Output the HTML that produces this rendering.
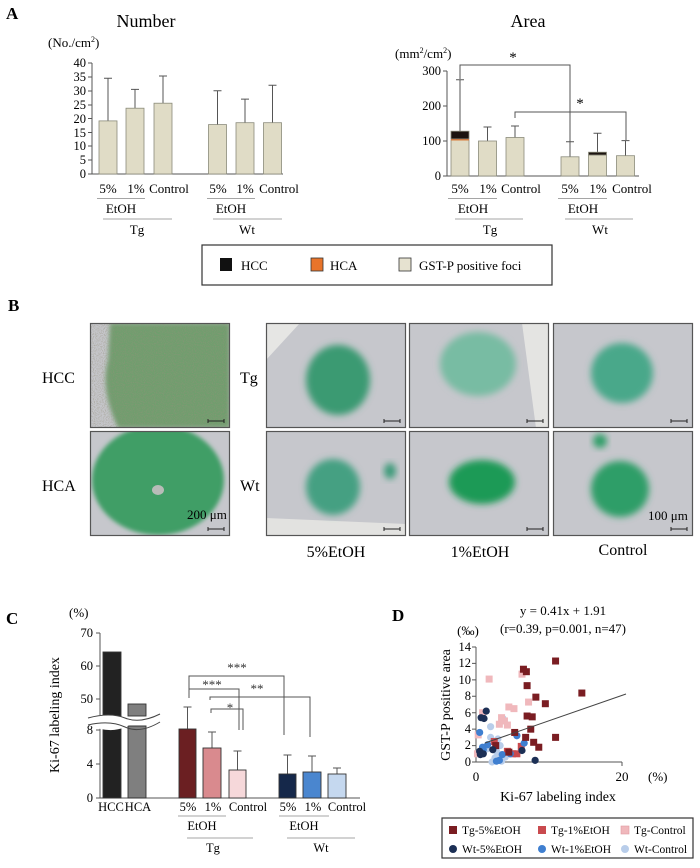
<!DOCTYPE html>
<html><head><meta charset="utf-8"><style>
html,body{margin:0;padding:0;background:#fff}
svg{display:block;font-family:"Liberation Serif",serif}
</style></head><body>
<svg id="s" width="700" height="868" viewBox="0 0 700 868" xmlns="http://www.w3.org/2000/svg">
<defs>
<filter id="bl" x="-30%" y="-30%" width="160%" height="160%"><feGaussianBlur stdDeviation="3.5"/></filter>
<filter id="bl2" x="-30%" y="-30%" width="160%" height="160%"><feGaussianBlur stdDeviation="2"/></filter>
<filter id="noise"><feTurbulence type="fractalNoise" baseFrequency="0.9" numOctaves="2" seed="3"/><feColorMatrix values="0 0 0 0 0.3  0 0 0 0 0.28  0 0 0 0 0.2  0 0 0 -2.2 1.3"/></filter>
<clipPath id="c1"><rect x="90" y="323" width="140" height="105"/></clipPath>
<clipPath id="c2"><rect x="90" y="431" width="140" height="105"/></clipPath>
</defs>
<g fill="#000">
<text x="6" y="19" font-size="17" font-weight="bold">A</text>
<text x="146" y="27" font-size="18" text-anchor="middle">Number</text>
<text x="48" y="47" font-size="13">(No./cm<tspan font-size="8" dy="-5">2</tspan><tspan dy="5">)</tspan></text>
<g font-size="12.5" text-anchor="end">
<text x="86" y="67">40</text><text x="86" y="81">35</text><text x="86" y="95">30</text><text x="86" y="109">25</text><text x="86" y="123">20</text><text x="86" y="137">15</text><text x="86" y="150">10</text><text x="86" y="164">5</text><text x="86" y="178">0</text>
</g>
<g stroke="#555" stroke-width="1" fill="none">
<path d="M92 63V174H283"/>
<path d="M88 63h4M88 77h4M88 91h4M88 105h4M88 118.5h4M88 132.5h4M88 146h4M88 160h4M88 174h4"/>
<path d="M108 121V78.3M104 78.3h8M135 108V89.4M131 89.4h8M163 103V76M159 76h8M217.5 124.6V90.8M213.5 90.8h8M245 122.7V99.1M241 99.1h8M272.5 122.7V85.2M268.5 85.2h8"/>
</g>
<g fill="#e0dcc6" stroke="#8a8a7a" stroke-width="0.8">
<rect x="99" y="120.9" width="18" height="53.1"/><rect x="126" y="108.2" width="18" height="65.8"/><rect x="154" y="103.2" width="18" height="70.8"/>
<rect x="208.5" y="124.6" width="18" height="49.4"/><rect x="236" y="122.7" width="18" height="51.3"/><rect x="263.5" y="122.7" width="18" height="51.3"/>
</g>
<g font-size="13" text-anchor="middle">
<text x="108" y="193">5%</text><text x="136" y="193">1%</text><text x="169" y="193">Control</text>
<text x="218" y="193">5%</text><text x="245" y="193">1%</text><text x="279" y="193">Control</text>
<text x="121" y="213">EtOH</text><text x="231" y="213">EtOH</text>
<text x="137" y="234">Tg</text><text x="247" y="234">Wt</text>
</g>
<g stroke="#888" stroke-width="0.8"><path d="M97 198.5H145M207 198.5H255M103 219H172M213 219H282"/></g>

<text x="528" y="27" font-size="18" text-anchor="middle">Area</text>
<text x="395" y="58" font-size="13">(mm<tspan font-size="8" dy="-5">2</tspan><tspan dy="5">/cm</tspan><tspan font-size="8" dy="-5">2</tspan><tspan dy="5">)</tspan></text>
<g font-size="12.5" text-anchor="end"><text x="441" y="75">300</text><text x="441" y="110">200</text><text x="441" y="145">100</text><text x="441" y="180">0</text></g>
<g stroke="#555" stroke-width="1" fill="none">
<path d="M447 71V176H639"/><path d="M443 71h4M443 106h4M443 141h4M443 176h4"/>
<path d="M460 131V79.8M456 79.8h8M487.5 141V127M483.5 127h8M515 137.5V126M511 126h8M570 156.8V141.7M566 141.7h8M597.5 152.2V133.3M593.5 133.3h8M625.5 155.7V140.6M621.5 140.6h8"/>
<path d="M460 79V65H570V145M515 118V112H626V140"/>
</g>
<g stroke="#8a8a7a" stroke-width="0.8">
<rect x="451" y="140" width="18" height="36" fill="#e0dcc6"/><rect x="451" y="138.9" width="18" height="1.5" fill="#e8742a" stroke="none"/><rect x="451" y="131.2" width="18" height="7.7" fill="#1c1410"/>
<rect x="478.5" y="141" width="18" height="35" fill="#e0dcc6"/><rect x="506" y="137.5" width="18" height="38.5" fill="#e0dcc6"/>
<rect x="561" y="156.8" width="18" height="19.2" fill="#e0dcc6"/><rect x="588.5" y="155" width="18" height="21" fill="#e0dcc6"/><rect x="588.5" y="152.2" width="18" height="2.8" fill="#1c1410"/>
<rect x="616.5" y="155.7" width="18" height="20.3" fill="#e0dcc6"/>
</g>
<g font-size="15" text-anchor="middle"><text x="513" y="62">*</text><text x="580" y="108">*</text></g>
<g font-size="13" text-anchor="middle">
<text x="460" y="193">5%</text><text x="488" y="193">1%</text><text x="521" y="193">Control</text>
<text x="570" y="193">5%</text><text x="598" y="193">1%</text><text x="632" y="193">Control</text>
<text x="473" y="213">EtOH</text><text x="583" y="213">EtOH</text>
<text x="490" y="234">Tg</text><text x="600" y="234">Wt</text>
</g>
<g stroke="#888" stroke-width="0.8"><path d="M448 198.5H497M558 198.5H607M455 219H523M565 219H633"/></g>

<rect x="202" y="245" width="350" height="40" fill="#fff" stroke="#333" stroke-width="1.2"/>
<rect x="220" y="258" width="12" height="13" fill="#111"/>
<rect x="311" y="258" width="12" height="13" fill="#e8742a" stroke="#333" stroke-width="0.8"/>
<rect x="399" y="258" width="12" height="13" fill="#e6e2d0" stroke="#333" stroke-width="0.8"/>
<g font-size="13"><text x="241" y="270">HCC</text><text x="330" y="270">HCA</text><text x="419" y="270">GST-P positive foci</text></g>

<text x="8" y="311" font-size="17" font-weight="bold">B</text>
<g font-size="16"><text x="42" y="383">HCC</text><text x="42" y="491">HCA</text><text x="240" y="383">Tg</text><text x="240" y="491">Wt</text>
<text x="336" y="557" text-anchor="middle">5%EtOH</text><text x="480" y="557" text-anchor="middle">1%EtOH</text><text x="623" y="555" text-anchor="middle">Control</text></g>
</g>
<g id="micro"></g>
<g fill="#000" font-family="Liberation Serif">
<text x="6" y="624" font-size="17" font-weight="bold">C</text>
<text x="69" y="617" font-size="13">(%)</text>
<text transform="translate(59,715) rotate(-90)" font-size="14" text-anchor="middle">Ki-67 labeling index</text>
<g font-size="12.5" text-anchor="end"><text x="93" y="637">70</text><text x="93" y="670">60</text><text x="93" y="703">50</text><text x="93" y="734">8</text><text x="93" y="768">4</text><text x="93" y="802">0</text></g>
<g stroke="#555" stroke-width="1" fill="none">
<path d="M100 633V715M100 726V798H360"/><path d="M96 633h4M96 666h4M96 699h4M96 730h4M96 764h4M96 798h4"/>
<path d="M187.5 729V707M183.5 707h8M212 748V732M208 732h8M237.5 770V751M233.5 751h8M287.5 774V755M283.5 755h8M312 772V756M308 756h8M337 774V768M333 768h8"/>
<path d="M189 698V676H284V735M189 683V689H239V730M210 700V697H310V737M211 713V709H243V730"/>
</g>
<g stroke="#333" stroke-width="0.9">
<path d="M103 798V716H121V798Z" fill="#222"/><rect x="103" y="652" width="18" height="64" fill="#222"/>
<path d="M128 798V726H146V798Z" fill="#7f7f7f"/><rect x="128" y="704" width="18" height="12" fill="#7f7f7f"/>
<rect x="179" y="729" width="17" height="69" fill="#6b1f22"/><rect x="203" y="748" width="18" height="50" fill="#d98a8e"/><rect x="229" y="770" width="17" height="28" fill="#f6d8da"/>
<rect x="279" y="774" width="17" height="24" fill="#15284a"/><rect x="303" y="772" width="18" height="26" fill="#4a86cf"/><rect x="328" y="774" width="18" height="24" fill="#c5d8ef"/>
</g>
<path d="M88 718Q110 712 125 718T160 714L160 725Q140 720 125 727T88 725Z" fill="#fff"/>
<path d="M88 718Q110 712 125 718T160 714M88 725Q110 720 125 727T160 722" stroke="#444" fill="none" stroke-width="1"/>
<g font-size="13" text-anchor="middle" fill="#333"><text x="237" y="672">***</text><text x="212" y="689">***</text><text x="257" y="693">**</text><text x="230" y="712">*</text></g>
<g font-size="12.5" text-anchor="middle">
<text x="111" y="811">HCC</text><text x="138" y="811">HCA</text><text x="188" y="811">5%</text><text x="213" y="811">1%</text><text x="248" y="811">Control</text>
<text x="288" y="811">5%</text><text x="313" y="811">1%</text><text x="347" y="811">Control</text>
<text x="202" y="830">EtOH</text><text x="304" y="830">EtOH</text><text x="213" y="852">Tg</text><text x="321" y="852">Wt</text>
</g>
<g stroke="#888" stroke-width="0.8"><path d="M178 816H226M279 816H329M187 838H253M287 838H355"/></g>

<text x="392" y="621" font-size="17" font-weight="bold">D</text>
<text x="563" y="615" font-size="13" text-anchor="middle">y = 0.41x + 1.91</text>
<text x="563" y="633" font-size="13" text-anchor="middle">(r=0.39, p=0.001, n=47)</text>
<text x="468" y="635" font-size="13" text-anchor="middle">(‰)</text>
<text transform="translate(450,705) rotate(-90)" font-size="14" text-anchor="middle">GST-P positive area</text>
<g font-size="12.5" text-anchor="end"><text x="471" y="651">14</text><text x="471" y="667">12</text><text x="471" y="684">10</text><text x="471" y="700">8</text><text x="471" y="717">6</text><text x="471" y="733">4</text><text x="471" y="749">2</text><text x="471" y="766">0</text></g>
<g font-size="13" text-anchor="middle"><text x="476" y="781">0</text><text x="622" y="781">20</text></g>
<text x="648" y="781" font-size="13">(%)</text>
<text x="558" y="801" font-size="14" text-anchor="middle">Ki-67 labeling index</text>
<path d="M476 647V762H622M472 647h4M472 663.4h4M472 679.9h4M472 696.3h4M472 712.7h4M472 729.1h4M472 745.6h4M472 762h4M622 762v4" stroke="#555" fill="none"/>
<g id="pts"></g>
<path d="M485 743L626 694" stroke="#444" stroke-width="1"/>
<rect x="442" y="818" width="251" height="40" fill="#fff" stroke="#333" stroke-width="1.2"/>
<g font-size="11.5">
<rect x="449" y="826" width="8" height="8" fill="#7a1d22"/><text x="462" y="834">Tg-5%EtOH</text>
<rect x="538" y="826" width="8" height="8" fill="#c94a4e"/><text x="551" y="834">Tg-1%EtOH</text>
<rect x="621" y="826" width="8" height="8" fill="#f0b8bc" stroke="#e09aa0" stroke-width="0.6"/><text x="634" y="834">Tg-Control</text>
<circle cx="453" cy="849" r="4" fill="#1c2f55"/><text x="462" y="853">Wt-5%EtOH</text>
<circle cx="542" cy="849" r="4" fill="#3f7fd0"/><text x="551" y="853">Wt-1%EtOH</text>
<circle cx="625" cy="849" r="4" fill="#b8cdea"/><text x="634" y="853">Wt-Control</text>
</g>
</g>
</svg>
<script>
var NS="http://www.w3.org/2000/svg";
function el(t,a,p){var e=document.createElementNS(NS,t);for(var k in a)e.setAttribute(k,a[k]);(p||document.getElementById('s')).appendChild(e);return e;}
var m=document.getElementById('micro');
var H=105;
var panels=[[90,323],[90,431],[266,323],[409,323],[553,323],[266,431],[409,431],[553,431]];
panels.forEach(function(p){el('rect',{x:p[0],y:p[1],width:140,height:H,fill:'#c6c7cc'},m);});
el('path',{d:'M266 323H300L266 360Z',fill:'#e6e6e4'},m);
el('path',{d:'M522 323H549V428H536Z',fill:'#e4e4e2'},m);
el('path',{d:'M266 518L406 524V536H266Z',fill:'#e2e2e0'},m);
var g1=el('g',{'clip-path':'url(#c1)'},m);
el('path',{d:'M110 323H230V428H118Q100 390 108 360Z',fill:'#6f9e6e',filter:'url(#bl2)'},g1);
el('rect',{x:90,y:323,width:140,height:H,filter:'url(#noise)',opacity:0.6},g1);
var g2=el('g',{'clip-path':'url(#c2)'},m);
el('ellipse',{cx:158,cy:480,rx:66,ry:55,fill:'#3f9e66',filter:'url(#bl2)'},g2);
el('ellipse',{cx:158,cy:490,rx:6,ry:5,fill:'#b8bcb8'},g2);
function blob(cx,cy,rx,ry,c){el('ellipse',{cx:cx,cy:cy,rx:rx,ry:ry,fill:c,filter:'url(#bl)'},m);}
blob(338,380,32,35,'#3b9a72');blob(478,364,38,32,'#78bca3');blob(622,373,31,30,'#4aa88a');
blob(333,487,27,28,'#45a082');blob(390,471,6,8,'#3a9a78');blob(482,482,33,22,'#1f9a56');
blob(620,489,29,28,'#2f9e68');blob(600,441,7,7,'#2f9e68');
panels.forEach(function(p){el('rect',{x:p[0]+0.5,y:p[1]+0.5,width:139,height:H-1,fill:'none',stroke:'#555','stroke-width':1.2},m);
el('path',{d:'M'+(p[0]+118)+' '+(p[1]+98)+'h16M'+(p[0]+118)+' '+(p[1]+96)+'v4M'+(p[0]+134)+' '+(p[1]+96)+'v4',stroke:'#222','stroke-width':1},m);});
var t=el('text',{x:187,y:519,'font-size':13},m);t.textContent='200 μm';
t=el('text',{x:648,y:520,'font-size':13},m);t.textContent='100 μm';
var P=document.getElementById('pts');
function X(x){return 476+x*7.3}function Y(y){return 762-y*8.21}
function sq(a,c){a.forEach(function(d){el('rect',{x:X(d[0])-3.5,y:Y(d[1])-3.5,width:7,height:7,fill:c},P);});}
function ci(a,c){a.forEach(function(d){el('circle',{cx:X(d[0]),cy:Y(d[1]),r:3.6,fill:c},P);});}
ci([[2,4.3],[3.7,5.3],[2,3],[2.5,2.5],[3,2.8],[3.3,2],[2.2,0],[3,1],[3.5,0.1],[2.6,0.5],[4,0.6],[1.5,1.6],[2.8,1.3]],'#b8cdea');
sq([[1.8,10.1],[6.3,10.7],[7.2,7.3],[4.5,6.7],[5.2,6.5],[0.9,6],[3.2,4.6],[3.9,5],[4.3,4.5],[0.3,3.3],[3.5,5.4],[0.2,1]],'#f0b8bc');
sq([[5.6,1],[6.2,1.9],[4.3,1.3],[2.5,2.5],[5,1]],'#c94a4e');
ci([[0.5,3.6],[1.6,2.1],[0.9,1.8],[3.6,0.9],[6.6,2.3],[5.6,3.2],[4.7,1],[2.8,0.1],[3.2,0.2],[1,1.5]],'#3f7fd0');
sq([[6.5,11.3],[6.9,11],[10.9,12.3],[7,9.3],[8.2,7.9],[9.5,7.1],[14.5,8.4],[7,5.6],[7.7,5.5],[7.5,4],[5.3,3.6],[6.8,3],[7.9,2.4],[10.9,3],[8.6,1.8],[4.5,1.2],[2.7,2]],'#7a1d22');
ci([[1.4,6.2],[0.7,5.4],[1.1,5.3],[0.5,1.3],[0.6,0.9],[2.3,1.5],[6.3,1.4],[8.1,0.2],[1,1]],'#1c2f55');
</script>
</body></html>
